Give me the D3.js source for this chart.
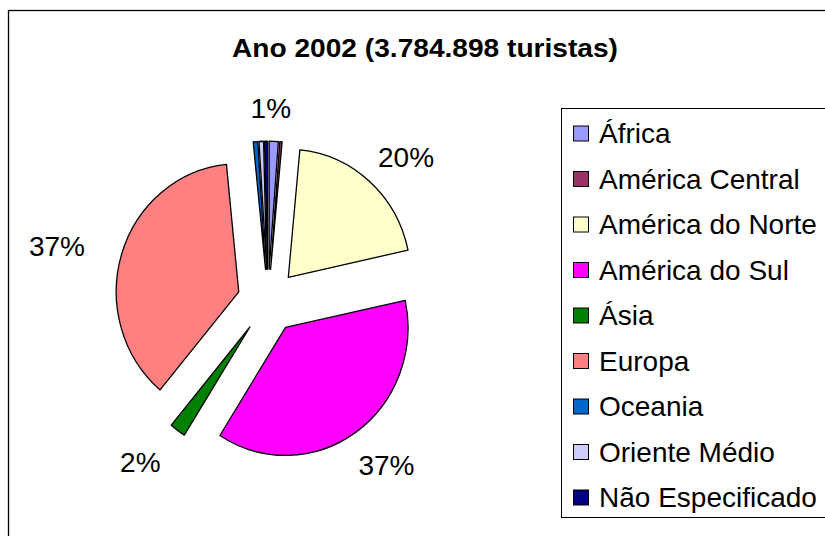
<!DOCTYPE html>
<html><head><meta charset="utf-8">
<script src="https://cdn.jsdelivr.net/npm/d3@7/dist/d3.min.js"></script>
<style>
body{margin:0;background:#fff;}
text{font-family:"Liberation Sans",Arial,Helvetica,sans-serif;fill:#000;}
</style>
</head><body>
<svg id="chart" width="825" height="536"></svg>
<script>
// ---- data ----
const titleText = "Ano 2002 (3.784.898 turistas)";
const categories = ["África","América Central","América do Norte","América do Sul","Ásia","Europa","Oceania","Oriente Médio","Não Especificado"];
const shares = [1.2, 0.3, 20.1, 37.4, 2.1, 37.3, 0.6, 0.6, 0.4];
const colors = ["#9999FF","#993366","#FFFFCC","#FF00FF","#008000","#FF8080","#0066CC","#CCCCFF","#000080"];
const labelShown = [true, false, true, true, true, true, false, false, false];

// ---- layout ----
const cx = 268, cy = 301.2, R = 128, squeeze = 0.957, explode = 32;
const labCx = 263, labCy = 304, labR = 196;

const svg = d3.select("#chart");
svg.append("rect").attr("x",8.5).attr("y",10.5).attr("width",900).attr("height",600)
  .attr("fill","#fff").attr("stroke","#000").attr("stroke-width",1.3);

svg.append("text").attr("x",425).attr("y",57).attr("text-anchor","middle")
  .attr("font-weight","bold").attr("font-size",26)
  .attr("textLength",386).attr("lengthAdjust","spacingAndGlyphs")
  .text(titleText);

const pie = d3.pie().sort(null).value(d => d)(shares);
const arc = d3.arc().innerRadius(0).outerRadius(R);
const total = d3.sum(shares);
const fmt = d3.format(".0%");

const g = svg.append("g").attr("transform", `translate(${cx},${cy}) scale(${squeeze},1)`);
g.selectAll("path").data(pie).join("path")
  .attr("transform", d => {
    const m = (d.startAngle + d.endAngle) / 2;
    return `translate(${Math.sin(m)*explode},${-Math.cos(m)*explode})`;
  })
  .attr("d", arc)
  .attr("fill", (d,i) => colors[i])
  .attr("stroke", "#000").attr("stroke-width", 1.3)
  .attr("vector-effect","non-scaling-stroke")
  .attr("stroke-linejoin","round");

// labels
const fs = 28, capH = fs * 0.716;
const lab = svg.append("g");
pie.forEach((d,i) => {
  if (!labelShown[i]) return;
  const m = (d.startAngle + d.endAngle) / 2;
  const sx = Math.sin(m), sy = -Math.cos(m);
  const t = lab.append("text").attr("font-size",fs).attr("text-anchor","middle")
    .text(fmt(shares[i] / total));
  const bb = t.node().getBBox();
  const x = labCx + squeeze * sx * labR + sx * bb.width / 2;
  const yc = labCy + sy * labR;
  t.attr("x", x).attr("y", yc + capH / 2);
});

// legend
const lx = 561.5, ly = 108.5, rowH = 45.5, row0 = 133.5;
svg.append("rect").attr("x",lx).attr("y",ly).attr("width",300).attr("height",409)
  .attr("fill","#fff").attr("stroke","#000").attr("stroke-width",1);
const items = svg.append("g").selectAll("g").data(categories).join("g")
  .attr("transform", (d,i) => `translate(0,${row0 + i*rowH})`);
items.append("rect").attr("x",573.5).attr("y",-7.5).attr("width",15).attr("height",15)
  .attr("fill",(d,i)=>colors[i]).attr("stroke","#000").attr("stroke-width",1);
items.append("text").attr("x",599).attr("y",9.8).attr("font-size",28).text(d=>d);
</script>
</body></html>
